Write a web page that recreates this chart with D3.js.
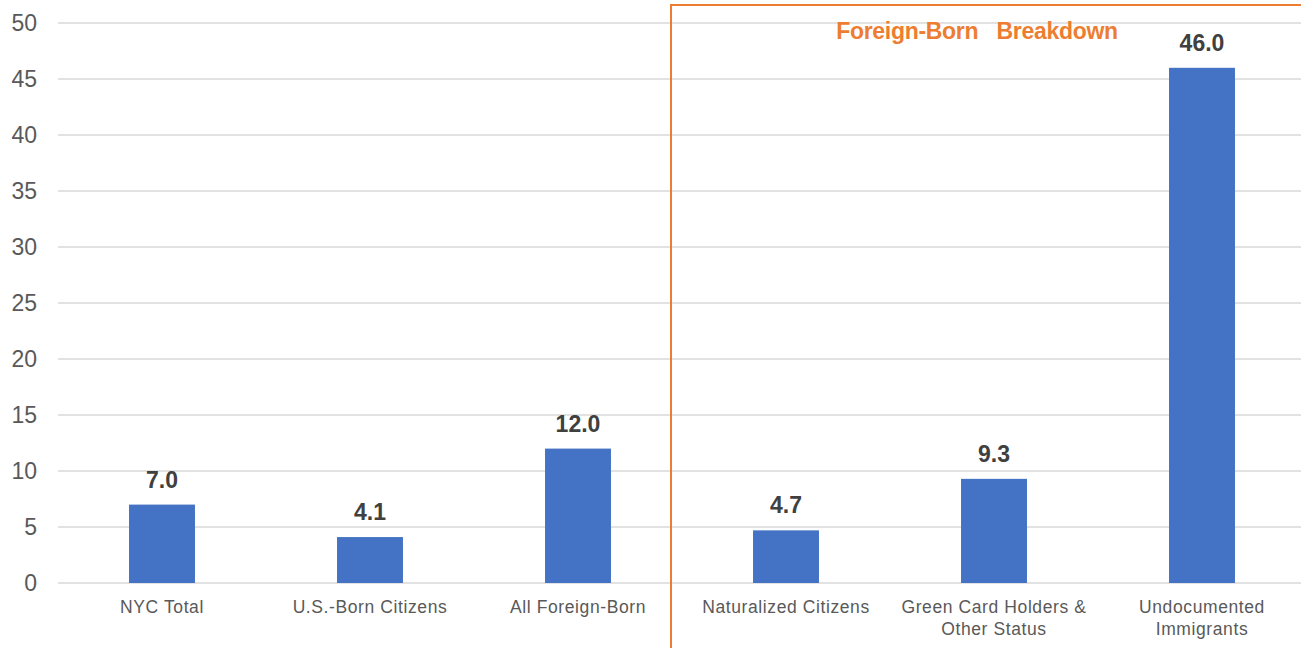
<!DOCTYPE html>
<html>
<head>
<meta charset="utf-8">
<script src="https://cdn.jsdelivr.net/npm/d3@7"></script>
<style>
  body { margin: 0; background: #fff; }
  svg { display: block; font-family: "Liberation Sans", Arial, Helvetica, sans-serif; }
</style>
</head>
<body>
<svg></svg>
<script>
// data
const categories = [
  ["NYC Total"],
  ["U.S.-Born Citizens"],
  ["All Foreign-Born"],
  ["Naturalized Citizens"],
  ["Green Card Holders &", "Other Status"],
  ["Undocumented", "Immigrants"]
];
const values = [7.0, 4.1, 12.0, 4.7, 9.3, 46.0];
const yTicks = [0, 5, 10, 15, 20, 25, 30, 35, 40, 45, 50];
const boxTitle = "Foreign-Born\u00a0\u00a0 Breakdown";

const width = 1301;
const height = 648;
const svg = d3.select("svg").attr("width", width).attr("height", height);

const keys = categories.map(c => c.join(" "));

// scales
const x = d3.scaleBand()
    .domain(keys)
    .range([58, 1306])
    .paddingInner(0.683)
    .paddingOuter(0.683 / 2);

const y = d3.scaleLinear().domain([0, 50]).range([583, 23]);

// grid lines
svg.append("g")
    .selectAll("line")
    .data(yTicks)
    .enter()
    .append("line")
    .attr("x1", 58)
    .attr("x2", width)
    .attr("y1", d => y(d))
    .attr("y2", d => y(d))
    .attr("stroke", "#d9d9d9")
    .attr("stroke-width", 1.5);

// y axis labels
svg.append("g")
    .selectAll("text")
    .data(yTicks)
    .enter()
    .append("text")
    .attr("x", 37)
    .attr("y", d => y(d))
    .attr("dy", "0.36em")
    .attr("text-anchor", "end")
    .attr("font-size", 23)
    .attr("fill", "#595959")
    .text(d => d);

// bars
svg.append("g")
    .selectAll("rect")
    .data(values)
    .enter()
    .append("rect")
    .attr("x", (d, i) => x(keys[i]))
    .attr("width", x.bandwidth())
    .attr("y", d => y(d))
    .attr("height", d => y(0) - y(d))
    .attr("fill", "#4472c4");

// value labels
svg.append("g")
    .selectAll("text")
    .data(values)
    .enter()
    .append("text")
    .attr("x", (d, i) => x(keys[i]) + x.bandwidth() / 2)
    .attr("y", d => y(d) - 17)
    .attr("text-anchor", "middle")
    .attr("font-size", 23)
    .attr("font-weight", "bold")
    .attr("fill", "#404040")
    .text(d => d.toFixed(1));

// category labels
const cat = svg.append("g")
    .selectAll("text")
    .data(categories)
    .enter()
    .append("text")
    .attr("x", (d, i) => x(keys[i]) + x.bandwidth() / 2)
    .attr("y", 613)
    .attr("text-anchor", "middle")
    .attr("font-size", 17.5)
    .attr("letter-spacing", 0.6)
    .attr("fill", "#595959");

cat.selectAll("tspan")
    .data(d => d)
    .enter()
    .append("tspan")
    .attr("x", function() { return this.parentNode.getAttribute("x"); })
    .attr("dy", (d, i) => i === 0 ? 0 : 22)
    .text(d => d);

// foreign-born box
svg.append("rect")
    .attr("x", 671)
    .attr("y", 5)
    .attr("width", 700)
    .attr("height", 700)
    .attr("fill", "none")
    .attr("stroke", "#ed7d31")
    .attr("stroke-width", 2);

svg.append("text")
    .attr("x", 977)
    .attr("y", 39)
    .attr("text-anchor", "middle")
    .attr("font-size", 23)
    .attr("font-weight", "bold")
    .attr("letter-spacing", -0.3)
    .attr("fill", "#ed7d31")
    .text(boxTitle);
</script>
</body>
</html>
